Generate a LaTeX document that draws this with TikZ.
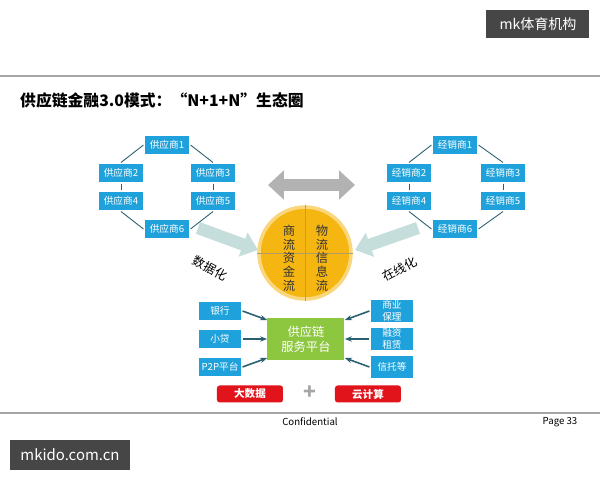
\documentclass[tikz,border=0pt]{standalone}
\usepackage{fontspec}
\setmainfont{Noto Sans CJK SC}
\usetikzlibrary{arrows.meta}
\definecolor{bl}{HTML}{1FA2DC}
\definecolor{gr}{HTML}{8DC63F}
\definecolor{yl}{HTML}{F6B612}
\definecolor{rd}{HTML}{E1131B}
\definecolor{tl}{HTML}{C5DEDC}
\definecolor{dk}{HTML}{2A6070}
\tikzset{
 bbox/.style={fill=bl,draw=white,line width=0.6pt,text=white,font=\fontsize{5.5}{6.5}\selectfont,minimum width=46*0.02cm,minimum height=20*0.02cm,inner sep=0pt,align=center},
 rbox/.style={fill=rd,rounded corners=1.5pt,text=white,font=\bfseries\fontsize{6}{7}\selectfont,minimum width=66*0.02cm,minimum height=17*0.02cm,inner sep=0pt},
 lnk/.style={draw=dk,line width=0.5pt},
 arr/.style={dk,line width=0.9pt,-{Stealth[length=4pt]}},
 fat/.style={tl,line width=7pt,-{Triangle[length=9pt,width=14pt]}}
}
\begin{document}
\begin{tikzpicture}[x=0.02cm,y=-0.02cm]
\useasboundingbox (0,0) rectangle (600,480);
\fill[white] (0,0) rectangle (600,480);
\node[fill=gray!55!black,text=white,minimum width=103*0.02cm,minimum height=28*0.02cm,font=\fontsize{8}{9}\selectfont] (wm1) at (538,24) {mk体育机构};
\draw[gray!70,line width=0.8pt] (0,76) -- (600,76);
\node[anchor=west,font=\bfseries\fontsize{9}{10}\selectfont] (title) at (14,100) {供应链金融3.0模式：“N+1+N”生态圈};
% suppliers
\foreach \n/\x/\y in {1/167/145,2/121/173,3/213/173,4/121/201,5/213/201,6/167/229}{
 \node[bbox] (s\n) at (\x,\y) {供应商\n};}
\foreach \n/\x/\y in {1/455/145,2/409/173,3/503/173,4/409/201,5/503/201,6/455/229}{
 \node[bbox] (d\n) at (\x,\y) {经销商\n};}
\foreach \p in {s,d}{
 \draw[lnk] (\p1.west) -- (\p2.north);
 \draw[lnk] (\p1.east) -- (\p3.north);
 \draw[lnk] (\p2.south) -- (\p4.north);
 \draw[lnk] (\p3.south) -- (\p5.north);
 \draw[lnk] (\p4.south) -- (\p6.west);
 \draw[lnk] (\p5.south) -- (\p6.east);
}
% double arrow
\coordinate (ga) at (268,185); \coordinate (gb) at (355,185);
\draw[gray!60,line width=7pt,{Triangle[length=9pt,width=16pt]}-{Triangle[length=9pt,width=16pt]}] (ga) -- (gb);
% circle
\node[circle,fill=yl,draw=yl!55,line width=2pt,minimum size=92*0.02cm] (c) at (305,253) {};
\draw[yl!50!black!60,line width=0.5pt] (c.north) -- (c.south) (c.west) -- (c.east);
\tikzset{cf/.style={font=\fontsize{7}{8}\selectfont,align=center,text=black!80,inner sep=0pt}}
\node[cf] (t1) at (289,238) {商\\流};
\node[cf] (t2) at (322,238) {物\\流};
\node[cf] (t3) at (289,272) {资\\金\\流};
\node[cf] (t4) at (322,272) {信\\息\\流};
% teal arrows
\coordinate (la) at (198,228); \coordinate (lb) at (258,250);
\coordinate (ra) at (418,228); \coordinate (rb) at (355,250);
\draw[fat] (la) -- (lb);
\draw[fat] (ra) -- (rb);
\node[rotate=-28,font=\fontsize{7}{8}\selectfont,inner sep=0pt] (lab1) at (210,268) {数据化};
\node[rotate=28,font=\fontsize{7}{8}\selectfont,inner sep=0pt] (lab2) at (400,269) {在线化};
% platform
\node[fill=gr,text=white,minimum width=77*0.02cm,minimum height=42*0.02cm,align=center,font=\fontsize{7}{8.5}\selectfont] (g) at (306,339) {供应链\\服务平台};
\node[bbox,minimum width=44*0.02cm] (b1) at (220,311) {银行};
\node[bbox,minimum width=44*0.02cm] (b2) at (220,339) {小贷};
\node[bbox,minimum width=44*0.02cm] (b3) at (220,367) {P2P平台};
\node[bbox,minimum width=44*0.02cm,minimum height=23*0.02cm] (b4) at (392,311) {商业\\保理};
\node[bbox,minimum width=44*0.02cm,minimum height=23*0.02cm] (b5) at (392,339) {融资\\租赁};
\node[bbox,minimum width=44*0.02cm,minimum height=23*0.02cm] (b6) at (392,367) {信托等};
\draw[arr] (b1.east) -- (g.north west |- 0,320);
\draw[arr] (b2.east) -- (g.west);
\draw[arr] (b3.east) -- (g.south west |- 0,358);
\draw[arr] (b4.west) -- (g.north east |- 0,320);
\draw[arr] (b5.west) -- (g.east);
\draw[arr] (b6.west) -- (g.south east |- 0,358);
\node[rbox] (r1) at (250,394) {大数据};
\node[rbox] (r2) at (368,394) {云计算};
\node[font=\bfseries\fontsize{12}{12}\selectfont,text=gray!70] (plus) at (310,393) {+};
\draw[gray!70,line width=0.6pt] (0,413) -- (600,413);
\node[font=\fontsize{5.5}{6}\selectfont] (conf) at (310,422) {Confidential};
\node[font=\fontsize{5.5}{6}\selectfont] (pg) at (560,422) {Page 33};
\node[fill=gray!55!black,text=white,minimum width=120*0.02cm,minimum height=30*0.02cm,font=\fontsize{8.5}{9}\selectfont] (wm2) at (70,455) {mkido.com.cn};
\end{tikzpicture}
\end{document}
